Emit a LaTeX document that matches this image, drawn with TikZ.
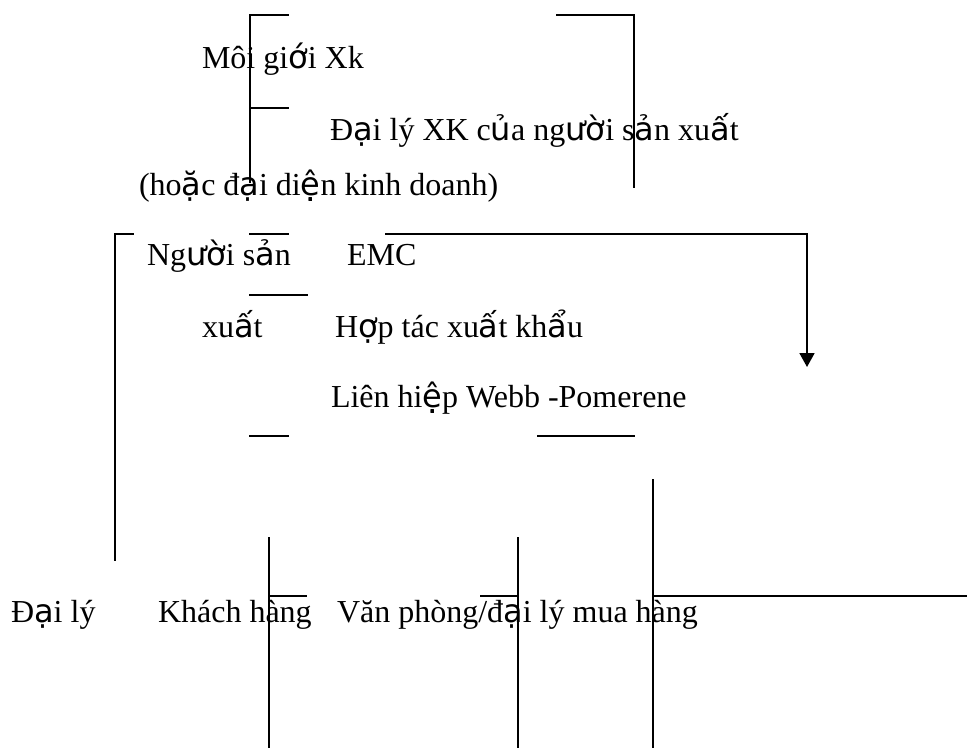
\documentclass[tikz,border=0pt]{standalone}
\usepackage{fontspec}
\setmainfont{Liberation Serif}
\newfontfamily\fbfont{DejaVu Sans}
\newcommand\fbk[1]{{\fbfont #1}}
\usetikzlibrary{arrows.meta}
\tikzset{
  lbl/.style={anchor=base west, inner sep=0pt, outer sep=0pt, font=\fontsize{32}{38}\selectfont},
  bline/.style={line width=1.8pt, line cap=rect},
  sline/.style={line width=1.4pt},
  arr/.style={line width=1.8pt, -{Triangle[width=15pt,length=14pt]}}
}
\begin{document}
\begin{tikzpicture}[x=1pt,y=-1pt]
\fill[white] (0,0) rectangle (967,748);
\useasboundingbox (0,0) rectangle (967,748);

% texts
\node[lbl] (moigioi) at (202,68) {Môi gi\fbk{ớ}i Xk};
\node[lbl] (daily1) at (330,140) {Đ\fbk{ạ}i lý XK c\fbk{ủ}a ng\fbk{ườ}i s\fbk{ả}n xu\fbk{ấ}t};
\node[lbl] (hoac) at (139,195) {(ho\fbk{ặ}c đ\fbk{ạ}i di\fbk{ệ}n kinh doanh)};
\node[lbl] (nguoi) at (147,265) {Ng\fbk{ườ}i s\fbk{ả}n};
\node[lbl] (emc) at (347,265) {EMC};
\node[lbl] (xuat) at (202,337) {xu\fbk{ấ}t};
\node[lbl] (hoptac) at (335,337) {H\fbk{ợ}p tác xu\fbk{ấ}t kh\fbk{ẩ}u};
\node[lbl] (lienhiep) at (331,407) {Liên hi\fbk{ệ}p Webb -Pomerene};
\node[lbl] (daily2) at (11,622) {Đ\fbk{ạ}i lý};
\node[lbl] (khach) at (158,622) {Khách hàng};
\node[lbl] (vanphong) at (337,622) {Văn phòng/đ\fbk{ạ}i lý mua hàng};

% coordinates
\coordinate (a1) at (288,15);  \coordinate (a2) at (250,15);
\coordinate (a3) at (250,182); \coordinate (a4) at (250,108);
\coordinate (a5) at (288,108);
\coordinate (b1) at (557,15);  \coordinate (b2) at (634,15);
\coordinate (b3) at (634,187);
\coordinate (c1) at (133,234); \coordinate (c2) at (115,234);
\coordinate (c3) at (115,560);
\coordinate (d1) at (250,234); \coordinate (d2) at (288,234);
\coordinate (e1) at (385,234); \coordinate (e2) at (807,234);
\coordinate (e3) at (807,367);
\coordinate (f1) at (250,295); \coordinate (f2) at (307,295);
\coordinate (g1) at (250,436); \coordinate (g2) at (288,436);
\coordinate (h1) at (538,436); \coordinate (h2) at (634,436);
\coordinate (k1) at (269,537); \coordinate (k2) at (269,748);
\coordinate (k3) at (269,596); \coordinate (k4) at (307,596);
\coordinate (m1) at (518,537); \coordinate (m2) at (518,748);
\coordinate (m3) at (480,596); \coordinate (m4) at (518,596);
\coordinate (n1) at (653,479); \coordinate (n2) at (653,748);
\coordinate (n3) at (653,596); \coordinate (n4) at (967,596);

% upper lines
\draw[bline] (a1) -- (a2) -- (a3);
\draw[bline] (a4) -- (a5);
\draw[bline] (b1) -- (b2) -- (b3);
\draw[bline] (c1) -- (c2) -- (c3);
\draw[bline] (d1) -- (d2);
\draw[arr] (e1) -- (e2) -- (e3);
\draw[bline] (f1) -- (f2);
\draw[bline] (g1) -- (g2);
\draw[bline] (h1) -- (h2);

% lower lines
\draw[sline] (k1) -- (k2);
\draw[sline] (k3) -- (k4);
\draw[sline] (m1) -- (m2);
\draw[sline] (m3) -- (m4);
\draw[sline] (n1) -- (n2);
\draw[sline] (n3) -- (n4);
\end{tikzpicture}
\end{document}
